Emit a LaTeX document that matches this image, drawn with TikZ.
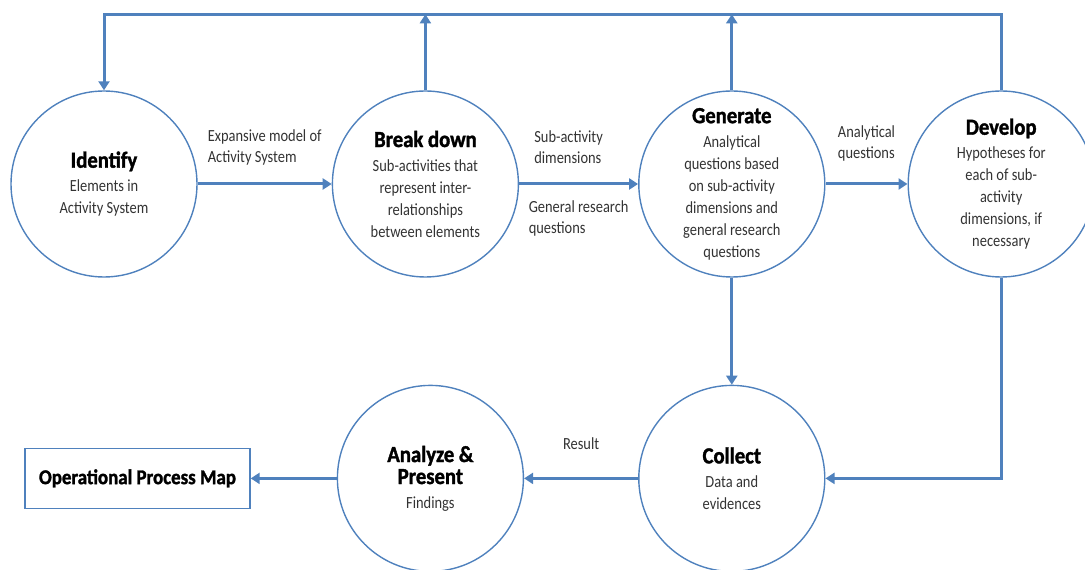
\documentclass[tikz,border=0pt]{standalone}
\usepackage{fontspec}
\setmainfont{Carlito}[FakeStretch=0.85]
\newfontfamily\headfont{Carlito}[FakeStretch=0.9, BoldFeatures={FakeBold=1.5}]
\usetikzlibrary{positioning}
\usetikzlibrary{arrows.meta}
\definecolor{flowblue}{RGB}{79,129,189}
\definecolor{textgray}{RGB}{51,51,51}
\newcommand{\stagehead}[1]{{\headfont\bfseries\fontsize{23}{27}\selectfont\color{black}#1}}

\begin{document}
\begin{tikzpicture}[x=1pt,y=1pt,
    stage/.style={circle, draw=flowblue, line width=1.4pt, minimum size=186pt, inner sep=0pt,
      align=center, text=textgray, font=\fontsize{17}{22}\selectfont},
    mapbox/.style={rectangle, draw=flowblue, line width=1.4pt, minimum width=225pt, minimum height=60pt},
    flow/.style={draw=flowblue, line width=3pt, -{Triangle[length=9pt,width=11pt]}},
    rail/.style={draw=flowblue, line width=3pt},
    lbl/.style={align=left, text=textgray, font=\fontsize{17}{21}\selectfont}]
        \useasboundingbox (0,0) rectangle (1085,570);
        % Nodes
        \node[stage] at (104,386) (identify) {\stagehead{Identify}\\[2pt] Elements in\\Activity System};
        \node[stage, right=134pt of identify] (breakdown) {\stagehead{Break down}\\[2pt] Sub-activities that\\represent inter-\\relationships\\between elements};
        \node[stage, right=119pt of breakdown] (generate) {\stagehead{Generate}\\[2pt] Analytical\\questions based\\on sub-activity\\dimensions and\\general research\\questions};
        \node[stage, right=82pt of generate] (develop) {\stagehead{Develop}\\[2pt] Hypotheses for\\each of sub-\\activity\\dimensions, if\\necessary};
        \node[stage, below=107pt of generate] (collect) {\stagehead{Collect}\\[2pt] Data and\\evidences};
        \node[stage, left=114pt of collect] (analyze) {\stagehead{Analyze \&}\\\stagehead{Present}\\[2pt] Findings};
        \node[mapbox, left=86pt of analyze] (opmap) {{\headfont\bfseries\fontsize{21}{25}\selectfont Operational Process Map}};
        % Edges
        \draw[flow] (identify) -- node[lbl, above=14pt] {Expansive model of\\Activity System} (breakdown);
        \draw[flow] (breakdown) -- node[lbl, above=16pt, xshift=-10pt] {Sub-activity\\dimensions}
                                   node[lbl, below=12pt] {General research\\questions} (generate);
        \draw[flow] (generate) -- node[lbl, above=18pt] {Analytical\\questions} (develop);
        \draw[flow] (breakdown.north) -- ++(0,76);
        \draw[flow] (generate.north) -- ++(0,76);
        \draw[flow] (develop.north) -- ++(0,76) -| (identify.north);
        \draw[flow] (generate) -- (collect);
        \draw[flow] (develop) |- (collect);
        \draw[flow] (collect) -- node[lbl, above=24pt] {Result} (analyze);
        \draw[flow] (analyze) -- (opmap);
\end{tikzpicture}
\end{document}
